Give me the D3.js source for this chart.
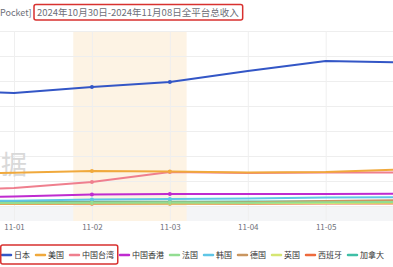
<!DOCTYPE html>
<html><head><meta charset="utf-8">
<script src="https://cdn.jsdelivr.net/npm/d3@7"></script>
<style>
html,body{margin:0;padding:0;background:#fff;overflow:hidden}
svg{display:block;font-family:"Noto Sans CJK SC","Noto Sans",sans-serif}
</style></head><body>
<svg id="c" width="393" height="267"></svg>
<script>
// ---- data ----
const dates = ["2024-10-31","2024-11-01","2024-11-02","2024-11-03","2024-11-04","2024-11-05","2024-11-06"];
const tickLabels = ["2024-11-01","2024-11-02","2024-11-03","2024-11-04","2024-11-05"];
const markedDates = ["2024-11-02","2024-11-03"];
const bandRange = ["2024-11-01T18:15","2024-11-03T05:10"];
const titlePrefix = "Pocket]";
const titleText = "2024年10月30日-2024年11月08日全平台总收入";
const watermark = "据";
const seriesNames = ["日本","美国","中国台湾","中国香港","法国","韩国","德国","英国","西班牙","加拿大"];
const japan     = [4640,4520,4760,4960,5400,5800,5740];
const usa       = [1300,1328,1400,1380,1340,1360,1460];
const taiwan    = [620,720,960,1360,1320,1340,1340];
const hongkong  = [340,380,460,480,480,480,488];
const france    = [120,120,130,140,130,150,160];
const korea     = [200,210,260,280,300,340,350];
const germany   = [130,130,140,140,150,200,240];
const uk        = [90,100,110,100,110,120,130];
const spain     = [70,80,90,90,90,100,100];
const canada    = [150,160,170,170,180,180,190];
const seriesValues = [japan,usa,taiwan,hongkong,france,korea,germany,uk,spain,canada];
const colors = ["#3356c6","#f0a93c","#ef7f8e","#bf2bd0","#93dd92","#5fc6e6","#c99660","#d6e673","#ee6a3c","#3fbfa6"];
const yMax = 7000, yStep = 1000;

// ---- chart ----
const svg = d3.select("#c");
const parse = d3.timeParse("%Y-%m-%d");
const parseT = d3.timeParse("%Y-%m-%dT%H:%M");
const D = dates.map(parse);
const plotTop = 31, plotBottom = 206, axisY = 221;
const x = d3.scaleTime().domain([parse("2024-11-01"), parse("2024-11-05")]).range([14, 325.7]);
const y = d3.scaleLinear().domain([0, yMax]).range([plotBottom, plotTop]);

// bottom grey strip
svg.append("rect").attr("x",0).attr("y",207).attr("width",393).attr("height",axisY-207).attr("fill","#f4f5f7");

// weekend band
svg.append("rect")
  .attr("x", x(parseT(bandRange[0]))).attr("y", plotTop)
  .attr("width", x(parseT(bandRange[1])) - x(parseT(bandRange[0])))
  .attr("height", axisY - plotTop).attr("fill","#fdf3e4");

// horizontal grid
const gy = svg.append("g")
  .call(d3.axisLeft(y).tickValues(d3.range(0, yMax + 1, yStep)).tickSize(-393).tickFormat(""))
  .call(g => g.select(".domain").remove());
gy.selectAll(".tick line").attr("stroke","#eeeeee").attr("stroke-width",1);

// vertical grid
const gx = svg.append("g").attr("transform",`translate(0,${axisY})`)
  .call(d3.axisBottom(x).tickValues(tickLabels.map(parse)).tickSize(-(axisY - plotTop)).tickFormat(""))
  .call(g => g.select(".domain").remove());
gx.selectAll(".tick line").attr("stroke","#efefef").attr("stroke-width",1);

// x labels
const xl = svg.append("g").attr("transform",`translate(0,${axisY})`)
  .call(d3.axisBottom(x).tickValues(tickLabels.map(parse)).tickSize(0).tickPadding(3).tickFormat(d3.timeFormat("%m-%d")))
  .call(g => g.select(".domain").remove());
xl.selectAll("text").attr("fill","#6e7079").style("font-size","8px").style("font-family","'Noto Sans CJK SC',sans-serif");

// watermark
svg.append("text").attr("x",1).attr("y",174)
  .attr("fill","#d9d9d9").style("font-size","26px").text(watermark);

// lines
const line = d3.line().x((d,i)=>x(D[i])).y(d=>y(d));
const order = [9,8,7,6,5,4,3,2,1,0];
order.forEach(k => {
  svg.append("path").datum(seriesValues[k]).attr("d", line)
    .attr("fill","none").attr("stroke",colors[k]).attr("stroke-width", 2)
    .attr("stroke-linejoin","round");
});
order.forEach(k => {
  const vals = seriesValues[k];
  markedDates.forEach(md => {
    const i = dates.indexOf(md);
    svg.append("circle").attr("cx",x(D[i])).attr("cy",y(vals[i])).attr("r",2)
      .attr("fill",colors[k]);
  });
});

// title
svg.append("text").attr("x",0).attr("y",16).attr("fill","#6e7079").style("font-size","9px").text(titlePrefix);
const tt = svg.append("text").attr("x",37).attr("y",16).attr("fill","#6e7079").style("font-size","9.5px").text(titleText);
const tw = tt.node().getComputedTextLength();
svg.append("rect").attr("x",34).attr("y",4.5).attr("width",tw+7).attr("height",15.5)
  .attr("rx",2).attr("fill","none").attr("stroke","#d8312f").attr("stroke-width",1.5);

// legend
const lg = svg.append("g");
let lx = 2;
const ly = 255;
const itemEnds = [];
seriesNames.forEach((n,i) => {
  lg.append("line").attr("x1",lx).attr("x2",lx+9).attr("y1",ly).attr("y2",ly)
    .attr("stroke",colors[i]).attr("stroke-width",2.5).attr("stroke-linecap","round");
  const t = lg.append("text").attr("x",lx+12).attr("y",ly+3).attr("fill","#333")
    .style("font-size","8px").text(n);
  const w = t.node().getComputedTextLength();
  itemEnds.push(lx+12+w);
  lx = lx + 12 + w + 6;
});
svg.append("rect").attr("x",0.75).attr("y",245).attr("width",itemEnds[2]+3).attr("height",19)
  .attr("rx",2).attr("fill","none").attr("stroke","#d8312f").attr("stroke-width",1.5);
</script>
</body></html>
